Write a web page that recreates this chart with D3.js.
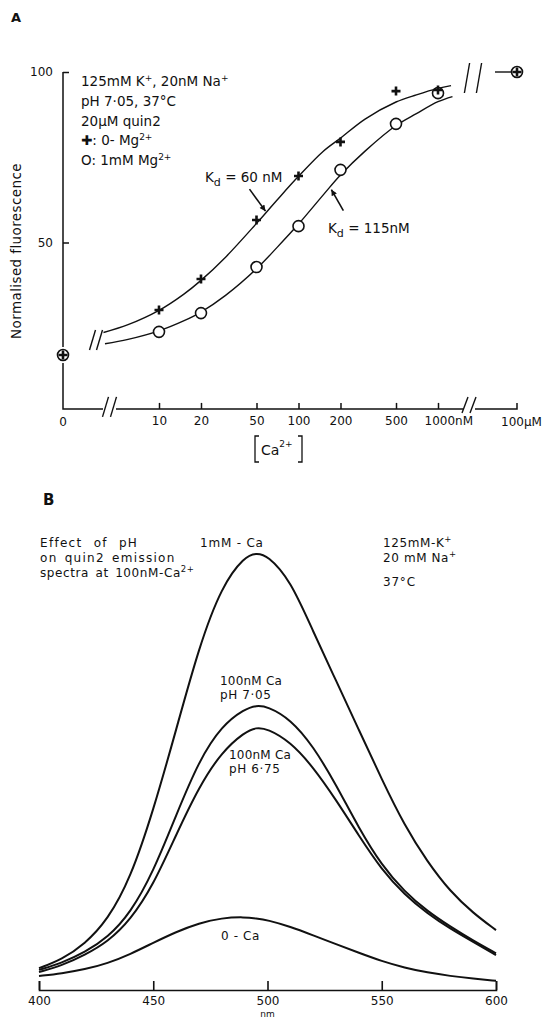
<!DOCTYPE html>
<html>
<head>
<meta charset="utf-8">
<script src="https://cdn.jsdelivr.net/npm/d3@7"></script>
<style>
  body { margin: 0; background: #fff; }
  svg { display: block; font-family: "DejaVu Sans", sans-serif; }
</style>
</head>
<body>
<svg id="chart" width="548" height="1017"></svg>
<script>
// ---- Panel A data: normalised fluorescence vs [Ca2+] (nM) ----
var concPts   = [0, 10, 20, 50, 100, 200, 500, 1000, 100000];
var noMg      = [17, 30.2, 39.3, 56.6, 69.5, 79.5, 94.4, 94.7, 100];
var withMg    = [17, 23.8, 29.3, 42.8, 54.8, 71.3, 84.8, 93.8, 100];
// fitted curves
var fitConc60  = [4, 6, 10, 15, 20, 30, 50, 70, 100, 150, 200, 300, 500, 700, 1000, 1240];
var fit60      = [23.6, 25.9, 30.1, 34.8, 38.9, 45.7, 55.6, 62.4, 69.4, 76.7, 80.6, 86.2, 91.2, 93.3, 95.2, 96];
var fitConc115 = [4.1, 6, 10, 15, 20, 30, 50, 70, 100, 150, 200, 300, 500, 700, 1000, 1270];
var fit115     = [20.3, 21.6, 24.1, 27, 29.6, 34.5, 42.3, 48.5, 55.4, 63.9, 69.8, 76.8, 84.3, 87.8, 91.3, 92.8];
var concTicks  = [10, 20, 50, 100, 200, 500, 1000];
var concLabels = ["10", "20", "50", "100", "200", "500", "1000nM"];
var fluorTicks = [50, 100];

// ---- Panel B data: emission spectra (arbitrary units) ----
var wavelength = [400, 410, 420, 430, 440, 450, 460, 470, 480, 490, 495, 500, 510, 520, 530, 540, 550, 560, 570, 580, 590, 600];
var ca1mM = [5.0, 7.0, 10.5, 16, 25.5, 41, 59.5, 78.5, 92.5, 99.2, 100, 99.5, 93.8, 82, 70.8, 59.5, 48.2, 37.6, 29.3, 22.5, 17.6, 13.7];
var ph705 = [4.6, 6.2, 8.6, 12, 17.6, 27, 40, 52.5, 60.5, 64.3, 65.1, 64.9, 62, 55.8, 47, 37, 28.5, 22.5, 18, 14.5, 11.3, 8.4];
var ph675 = [4.1, 5.6, 8.0, 11, 16, 24, 35.5, 46.5, 54.5, 59, 60.1, 59.8, 56.8, 51, 43.5, 35.3, 27.5, 21.8, 17.5, 14, 11, 8];
var ca0   = [3.2, 3.8, 4.7, 6.1, 8.2, 10.8, 13.3, 15.3, 16.5, 16.7, 16.4, 16.0, 14.5, 12.5, 10.5, 8.5, 6.6, 5.1, 4.0, 3.2, 2.6, 2.1];
var nmTicks = [400, 450, 500, 550, 600];

var ink = "#111";
var svg = d3.select("#chart");
svg.append("rect").attr("width", 548).attr("height", 1017).attr("fill", "#fff");

var defs = svg.append("defs");
defs.append("marker")
  .attr("id", "head")
  .attr("viewBox", "0 0 10 10")
  .attr("refX", 10).attr("refY", 5)
  .attr("markerUnits", "userSpaceOnUse")
  .attr("markerWidth", 9).attr("markerHeight", 6)
  .attr("orient", "auto")
  .append("path").attr("d", "M0,0L10,5L0,10z").attr("fill", ink);

// draws a pair of "//" break marks
function breakMarks(g, cx, cy, h, lean, gap) {
  [-gap / 2, gap / 2].forEach(function(o) {
    g.append("line")
      .attr("x1", cx + o - lean).attr("y1", cy + h / 2)
      .attr("x2", cx + o + lean).attr("y2", cy - h / 2)
      .attr("stroke", ink).attr("stroke-width", 1.4);
  });
}

// =================== Panel A ===================
var gA = svg.append("g");

var yA = d3.scaleLinear().domain([0, 100]).range([413, 72]);
var xA = d3.scaleLog().domain([10, 1000]).range([159, 438]);
var xZero = 63, xHigh = 517;          // the broken-axis segments for 0 and 100 uM
var baseA = yA(1.2);

function xPos(c) {
  if (c === 0) return xZero;
  if (c >= 1e5) return xHigh;
  return xA(c);
}

gA.append("text").attr("x", 11).attr("y", 22)
  .attr("font-size", 13).attr("font-weight", "bold").attr("fill", ink).text("A");

// axis lines with gaps for the breaks
var p = d3.path();
p.moveTo(xZero, yA(100)); p.lineTo(xZero, yA(noMg[0]) - 8);
p.moveTo(xZero, yA(noMg[0]) + 8); p.lineTo(xZero, baseA); p.lineTo(103, baseA);
p.moveTo(116, baseA); p.lineTo(463, baseA);
p.moveTo(475, baseA); p.lineTo(xHigh, baseA); p.lineTo(xHigh, baseA - 6);
gA.append("path").attr("d", p.toString()).attr("fill", "none")
  .attr("stroke", ink).attr("stroke-width", 1.5);

breakMarks(gA, 109.5, baseA - 2, 20, 3, 8);
breakMarks(gA, 469, baseA - 4, 16, 3, 8);

var xAxisA = gA.append("g")
  .attr("transform", "translate(0," + baseA + ")")
  .call(d3.axisBottom(xA).tickValues(concTicks).tickSize(-6).tickSizeOuter(0).tickPadding(8)
    .tickFormat(function(d, i) { return concLabels[i]; }));
xAxisA.select(".domain").remove();
xAxisA.selectAll("line").attr("stroke", ink).attr("stroke-width", 1.5);
xAxisA.selectAll("text").attr("font-size", 12).attr("fill", ink)
  .attr("font-family", "DejaVu Sans");
xAxisA.selectAll(".tick").filter(function(d) { return d === 1000; })
  .select("text").attr("text-anchor", "start").attr("x", -14);

gA.append("text").attr("x", xZero).attr("y", baseA + 17)
  .attr("text-anchor", "middle").attr("font-size", 12).attr("fill", ink).text("0");
gA.append("text").attr("x", xHigh - 16).attr("y", baseA + 17)
  .attr("font-size", 12).attr("fill", ink).text("100\u00b5M");

var yAxisA = gA.append("g")
  .attr("transform", "translate(" + xZero + ",0)")
  .call(d3.axisLeft(yA).tickValues(fluorTicks).tickSize(-6).tickPadding(10));
yAxisA.select(".domain").remove();
yAxisA.selectAll("line").attr("stroke", ink).attr("stroke-width", 1.5);
yAxisA.selectAll("text").attr("font-size", 12).attr("fill", ink)
  .attr("font-family", "DejaVu Sans");

gA.append("text")
  .attr("transform", "translate(21,251) rotate(-90)")
  .attr("text-anchor", "middle").attr("font-size", 13.5).attr("fill", ink)
  .attr("letter-spacing", 0.4)
  .text("Normalised  fluorescence");

// [Ca2+] axis title with tall square brackets
var brk = d3.path();
brk.moveTo(259, 436); brk.lineTo(255, 436); brk.lineTo(255, 462); brk.lineTo(259, 462);
brk.moveTo(298, 436); brk.lineTo(302, 436); brk.lineTo(302, 462); brk.lineTo(298, 462);
gA.append("path").attr("d", brk.toString()).attr("fill", "none")
  .attr("stroke", ink).attr("stroke-width", 1.3);
var caLabel = gA.append("text").attr("x", 261).attr("y", 455).attr("fill", ink);
caLabel.append("tspan").attr("font-size", 14).text("Ca");
caLabel.append("tspan").attr("font-size", 9).attr("dy", -8).text("2+");

// condition text
var condLines = [
  [["125mM K", 0], ["+", 1], [",  20nM Na", 0], ["+", 1]],
  [["pH  7\u00b705,  37\u00b0C", 0]],
  [["20\u00b5M  quin2", 0]],
  [["\u271a:  0- Mg", 0], ["2+", 1]],
  [["O:  1mM Mg", 0], ["2+", 1]]
];
condLines.forEach(function(parts, i) {
  var t = gA.append("text").attr("x", 81).attr("y", 86 + i * 19.8)
    .attr("font-size", 13.5).attr("fill", ink);
  parts.forEach(function(pt) {
    var s = t.append("tspan").text(pt[0]);
    if (pt[1]) s.attr("font-size", 9).attr("baseline-shift", "55%");
  });
});

// fitted curves
var lineA = d3.line()
  .x(function(d) { return xA(d[0]); })
  .y(function(d) { return yA(d[1]); })
  .curve(d3.curveCatmullRom.alpha(0.5));

gA.append("path").datum(d3.zip(fitConc60, fit60))
  .attr("d", lineA).attr("fill", "none").attr("stroke", ink).attr("stroke-width", 1.4);
gA.append("path").datum(d3.zip(fitConc115, fit115))
  .attr("d", lineA).attr("fill", "none").attr("stroke", ink).attr("stroke-width", 1.4);

breakMarks(gA, 96, 340, 20, 3, 7);
breakMarks(gA, 473, 78, 30, 2.6, 12);

// stub line into the 100 uM point
gA.append("line")
  .attr("x1", xHigh - 22).attr("x2", xHigh)
  .attr("y1", yA(noMg[noMg.length - 1])).attr("y2", yA(noMg[noMg.length - 1]))
  .attr("stroke", ink).attr("stroke-width", 1.4);

// data points: circles (1 mM Mg) under pluses (0 Mg)
gA.selectAll("circle.mg")
  .data(d3.zip(concPts, withMg))
  .enter().append("circle")
  .attr("class", "mg")
  .attr("cx", function(d) { return xPos(d[0]); })
  .attr("cy", function(d) { return yA(d[1]); })
  .attr("r", 5.5)
  .attr("fill", "#fff").attr("stroke", ink).attr("stroke-width", 1.6);

gA.selectAll("path.plus")
  .data(d3.zip(concPts, noMg))
  .enter().append("path")
  .attr("class", "plus")
  .attr("transform", function(d) { return "translate(" + xPos(d[0]) + "," + yA(d[1]) + ")"; })
  .attr("d", "M-4.5,0H4.5M0,-4.5V4.5")
  .attr("stroke", ink).attr("stroke-width", 2.6);

// Kd annotations
function kdLabel(x, y, rest) {
  var t = gA.append("text").attr("x", x).attr("y", y).attr("font-size", 13.5).attr("fill", ink);
  t.append("tspan").text("K");
  t.append("tspan").attr("font-size", 11).attr("dy", 4).text("d");
  t.append("tspan").attr("dy", -4).text(rest);
}
kdLabel(205, 182, " = 60 nM");
kdLabel(328, 233, " = 115nM");

var tip60 = [xA(58), yA(59.2)];
gA.append("line")
  .attr("x1", tip60[0] - 16).attr("y1", tip60[1] - 22)
  .attr("x2", tip60[0]).attr("y2", tip60[1])
  .attr("stroke", ink).attr("stroke-width", 1.6).attr("marker-end", "url(#head)");
var tip115 = [xA(172), yA(65.5)];
gA.append("line")
  .attr("x1", tip115[0] + 12).attr("y1", tip115[1] + 21)
  .attr("x2", tip115[0]).attr("y2", tip115[1])
  .attr("stroke", ink).attr("stroke-width", 1.6).attr("marker-end", "url(#head)");

// =================== Panel B ===================
var gB = svg.append("g");

var xB = d3.scaleLinear().domain([400, 600]).range([39, 496]);
var yB = d3.scaleLinear().domain([0, 100]).range([990, 553]);

gB.append("text").attr("x", 43).attr("y", 505)
  .attr("font-size", 15).attr("font-weight", "bold").attr("fill", ink).text("B");

var xAxisB = gB.append("g")
  .attr("transform", "translate(0," + yB(0) + ")")
  .call(d3.axisBottom(xB).tickValues(nmTicks).tickSize(-9).tickSizeOuter(-9).tickPadding(6));
xAxisB.select(".domain").attr("stroke", ink).attr("stroke-width", 1.6);
xAxisB.selectAll("line").attr("stroke", ink).attr("stroke-width", 1.6);
xAxisB.selectAll("text").attr("font-size", 12).attr("fill", ink)
  .attr("font-family", "DejaVu Sans");

gB.append("text").attr("x", xB(500)).attr("y", 1016.5)
  .attr("text-anchor", "middle").attr("font-size", 9).attr("fill", ink).text("nm");

var lineB = d3.line()
  .x(function(d) { return xB(d[0]); })
  .y(function(d) { return yB(d[1]); })
  .curve(d3.curveBasis);

[ca1mM, ph705, ph675, ca0].forEach(function(series) {
  gB.append("path").datum(d3.zip(wavelength, series))
    .attr("d", lineB).attr("fill", "none")
    .attr("stroke", ink).attr("stroke-width", 2);
});

function noteB(x, y, parts, opts) {
  var t = gB.append("text").attr("x", x).attr("y", y)
    .attr("font-size", 12).attr("fill", ink)
    .attr("letter-spacing", opts && opts.ls != null ? opts.ls : 0.6)
    .attr("word-spacing", opts && opts.ws != null ? opts.ws : 0);
  parts.forEach(function(pt) {
    var s = t.append("tspan").text(pt[0]);
    if (pt[1]) s.attr("font-size", 8.5).attr("baseline-shift", "55%");
  });
}

noteB(40, 547, [["Effect of pH", 0]], { ls: 1.3, ws: 6 });
noteB(40, 562, [["on quin2 emission", 0]], { ls: 1.3, ws: 2 });
noteB(40, 577, [["spectra at 100nM-Ca", 0], ["2+", 1]], { ls: 0.6, ws: 2 });
noteB(200, 547, [["1mM - Ca", 0]], { ls: 0.8 });
noteB(383, 547, [["125mM-K", 0], ["+", 1]], { ls: 0.6 });
noteB(383, 562, [["20 mM  Na", 0], ["+", 1]], { ls: 0.6 });
noteB(383, 586, [["37\u00b0C", 0]], { ls: 0.8 });

noteB(220, 685, [["100nM Ca", 0]], { ls: 0.2 });
noteB(220, 699, [["pH 7\u00b705", 0]], { ls: 0.6 });
noteB(229, 759, [["100nM Ca", 0]], { ls: 0.2 });
noteB(229, 773, [["pH 6\u00b775", 0]], { ls: 0.6 });
noteB(221, 940, [["0 - Ca", 0]], { ls: 0.6 });
</script>
</body>
</html>
